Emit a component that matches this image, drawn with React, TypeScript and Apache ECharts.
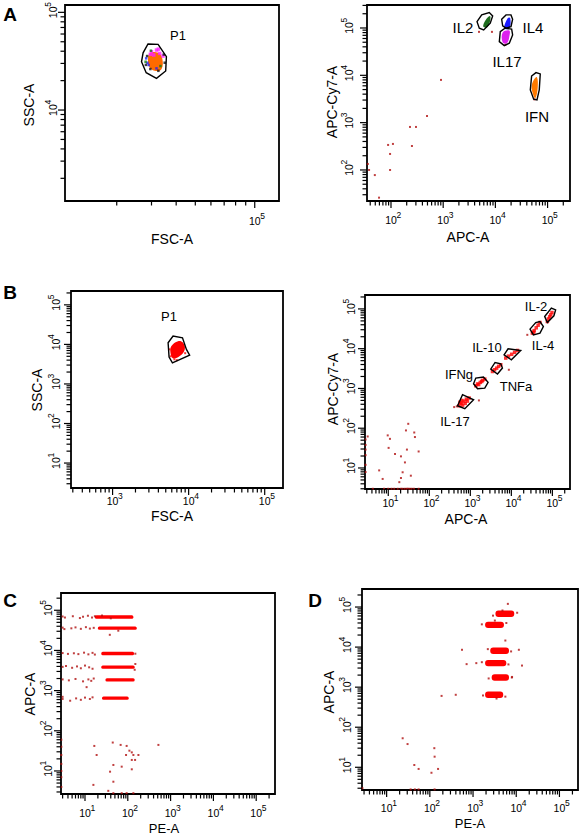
import React, { useEffect, useRef } from 'react';
import * as echarts from 'echarts';

const FONT = "'Liberation Sans', Arial, Helvetica, sans-serif";

// ---------------- Panel A (left): FSC-A vs SSC-A ----------------
const aLeftGate = [[28800, 47400], [32400, 47000], [35700, 35200], [35400, 25100], [31800, 21100], [28200, 24100], [26700, 31200], [27200, 38500]];
const aLeftCore = [[29400, 38000], [32400, 38500], [34000, 33800], [33700, 26100], [31100, 25200], [29200, 27700], [28800, 32500]];
const aLeftMagenta = [[30000, 39500], [31800, 41100], [33000, 38000], [34300, 35700], [30800, 36600], [32500, 42000], [29600, 37200]];
const aLeftBlue = [[28200, 33800], [29000, 28900], [31800, 26700], [28600, 30500]];
const aLeftGreen = [[28000, 31200], [33300, 28200], [29800, 40500]];
const aLeftBlack = [[28500, 35700], [29600, 26300], [35000, 30500], [32500, 25200], [28100, 29000], [34600, 37000]];

// ---------------- Panel A (right): APC-A vs APC-Cy7-A ----------------
const aRightIL2Gate = [[4450, 136000], [5470, 189000], [7640, 212000], [8870, 180000], [7980, 126000], [5970, 91200], [4920, 99100]];
const aRightIL2Core = [[5860, 107000], [6520, 148000], [7890, 180000], [7980, 148000], [7000, 104000]];
const aRightIL4Gate = [[13200, 153000], [16000, 189000], [19900, 189000], [21400, 153000], [19900, 107000], [16000, 99100], [13800, 111000]];
const aRightIL4Core = [[14800, 99100], [17200, 161000], [19300, 161000], [18500, 99100]];
const aRightIL17Gate = [[12400, 83900], [15300, 99100], [20500, 94400], [21400, 71400], [18500, 47800], [14800, 42500], [11900, 51500]];
const aRightIL17Core = [[13800, 80000], [18500, 88100], [18500, 65800], [16700, 47800], [13800, 49100]];
const aRightIFNGate = [[49500, 9700], [60000, 11400], [72400, 10700], [69300, 4910], [62700, 3020], [54200, 3130], [46700, 4910]];
const aRightIFNCore = [[54200, 8000], [62700, 9120], [64600, 5330], [58100, 3280], [51900, 4190], [49500, 5770]];
const aRightDots = [[908, 8000], [490, 1380], [231, 811], [301, 811], [88, 338], [109, 355], [96, 218], [252, 321], [36, 134], [38, 100], [49, 78], [96, 100], [59, 26], [4850, 82800], [8600, 82800], [15500, 44000], [56000, 3100]];

// ---------------- Panel B (left): FSC-A vs SSC-A ----------------
const bLeftGate = [[5370, 11000], [6240, 16200], [8300, 14700], [9350, 7480], [10300, 5370], [6120, 3430], [5530, 4780]];
const bLeftCore = [[5940, 9060], [7260, 12100], [8450, 11000], [8890, 7480], [7640, 5070], [6240, 4430], [5770, 6140]];
const bLeftDots = [[5800, 5000], [6500, 4200], [9000, 6000], [5600, 7500], [7000, 4000]];

// ---------------- Panel B (right): APC-A vs APC-Cy7-A ----------------
const bRightIL2Gate = [[65000, 64400], [94600, 104700], [120000, 94800], [109000, 67100], [75500, 45500]];
const bRightIL4Gate = [[28500, 31000], [39300, 45500], [49900, 48200], [60400, 36100], [49900, 24700], [34500, 22300]];
const bRightIL10Gate = [[6640, 7030], [8320, 9930], [16900, 9020], [10000, 5260]];
const bRightTNFaGate = [[3150, 3070], [4010, 4500], [5520, 4180], [6070, 3260], [4590, 2300]];
const bRightIFNgGate = [[1200, 1310], [1360, 1820], [2090, 1930], [2710, 1420], [2250, 1020], [1500, 980]];
const bRightIL17Gate = [[489, 367], [646, 695], [1200, 520], [735, 309]];
const bRightIL2Pts = [[75500, 48200], [80000, 56000], [85900, 63400], [91000, 71000], [97700, 81100]];
const bRightIL4Pts = [[32600, 24700], [35000, 26000], [36000, 28500], [40400, 33500], [45000, 39000], [49900, 45500]];
const bRightIL10Pts = [[7310, 5810], [8500, 6500], [10200, 7230], [12000, 8100], [14100, 9020]];
const bRightTNFaPts = [[3470, 2670], [3900, 2950], [4380, 3240], [4900, 3600], [5520, 3940]];
const bRightIFNgPts = [[1360, 1170], [1500, 1300], [1600, 1250], [1750, 1420], [1900, 1500], [2000, 1600], [2250, 1720]];
const bRightIL17Pts = [[533, 367], [560, 450], [600, 420], [650, 380], [700, 480], [750, 420], [800, 540], [850, 480], [935, 574], [620, 500]];
const bRightDots = [
  [24500, 22300], [8700, 2950], [1620, 500], [404, 340], [468, 355],
  [3.15, 62], [9.7, 66], [11, 54], [10.2, 32], [6.0, 8.7], [7.3, 5.3], [14.6, 22.5], [20.4, 19.6], [30.7, 129], [27, 88], [43, 78], [44.7, 60], [55, 26], [28.5, 29], [25.5, 13.8], [22.4, 7.8], [35.5, 6.4], [18.6, 4.4], [20.4, 5.6],
  [2.8, 52], [2.8, 38], [2.8, 29], [2.8, 21], [2.8, 12], [2.8, 7.9],
  [4.2, 3], [7.9, 3], [10, 3], [12, 3], [14, 3], [17, 3], [20, 3], [22, 3], [25, 3], [28, 3], [30, 3], [33, 3], [37, 3], [42, 3], [55, 3],
];

// ---------------- Panel C: PE-A vs APC-A ----------------
const cBandY = [68000, 36000, 8400, 3830, 1850, 650];
const cBandXStart = [17, 20, 24, 24, 30, 25];
const cBandXEnd = [135, 162, 140, 145, 145, 105];
const cDots = [
  [3.0, 70000], [3.4, 66000], [5.2, 71000], [7.6, 64000], [9, 69000], [11.7, 73000], [14.6, 66000], [17, 71000], [25, 74000], [40, 63000],
  [3.0, 37000], [3.3, 34000], [4.8, 35500], [6, 37500], [8, 34500], [10.5, 38000], [13, 35000], [16, 36500], [38, 24500], [60, 31000],
  [3.0, 8600], [4, 8200], [5.5, 8500], [7, 8100], [9.5, 8800], [12, 8000], [15, 8700], [17, 7900], [150, 8300],
  [3.0, 3900], [3.6, 4100], [5, 3700], [6.5, 4000], [8, 3600], [10, 4200], [12.5, 3800], [15, 3500], [150, 4600], [145, 3300],
  [3.0, 1900], [4.2, 1800], [6, 1950], [9, 1700], [10.9, 1220], [12, 1900], [14, 1750], [16, 2000],
  [3.0, 620], [3.0, 700], [4.5, 560], [6.2, 640], [8, 590], [10, 670], [13, 620], [15, 680],
  [16.5, 42], [18.7, 25], [44.5, 51], [68, 44.5], [94, 42], [109, 32], [124, 29], [91, 25], [135, 25], [177, 25], [519, 44.5], [124, 18.8], [148, 18.8], [72, 12.8], [46, 14.1], [38.5, 9.6], [124, 11], [46, 5.4], [15.7, 4.5], [35, 3.2],
  [46, 2.8], [72, 2.8], [94, 2.8], [135, 2.8],
  [2.8, 60], [2.8, 40], [2.8, 25], [2.8, 15], [2.8, 10], [2.8, 7], [2.8, 4],
];

// ---------------- Panel D: PE-A vs APC-A ----------------
const dBandY = [68000, 36000, 8100, 3980, 1740, 645];
const dBandXStart = [3300, 1900, 2500, 1900, 2700, 1900];
const dBandXEnd = [9000, 5200, 6800, 5900, 6800, 5000];
const dDots = [
  [6400, 120000], [556, 8570], [11500, 8570], [710, 3760], [1190, 3980], [13600, 3460], [187, 605], [398, 645], [5600, 14600], [7900, 1740],
  [2900, 61000], [10500, 72000], [1600, 37000], [5900, 40000], [2200, 8900], [7600, 7800], [1600, 4200], [6600, 3700], [2300, 1650], [8000, 1800],
  [1700, 620], [5600, 580], [3500, 520], [4800, 82000], [3200, 46000],
  [23.5, 53], [30.5, 38], [43.7, 11.4], [55, 9.1], [109, 7.3], [127, 30], [129, 18.4], [155, 9.1],
  [36, 2.8], [45, 2.8], [55, 2.8], [129, 2.8], [2.75, 3],
];

// ---------------- Layout of the six plots ----------------
const panels = [
  { left: 65, top: 5, width: 214, height: 196, xMin: 10940, xMax: 132700, yMin: 1172, yMax: 118900, xDec: [5], yDec: [4, 5], xGap: 20, yGap: 12 },
  { left: 367, top: 5, width: 203, height: 196, xMin: 34.7, xMax: 269000, yMin: 22.1, yMax: 306000, xDec: [2, 3, 4, 5], yDec: [2, 3, 4, 5], xGap: 19, yGap: 18 },
  { left: 71, top: 291, width: 212, height: 197, xMin: 284, xMax: 174000, yMin: 2.34, yMax: 224000, xDec: [3, 4, 5], yDec: [1, 2, 3, 4, 5], xGap: 13, yGap: 15 },
  { left: 365, top: 295, width: 205, height: 194, xMin: 2.71, xMax: 269000, yMin: 2.96, yMax: 224000, xDec: [1, 2, 3, 4, 5], yDec: [1, 2, 3, 4, 5], xGap: 14, yGap: 14 },
  { left: 61, top: 593, width: 214, height: 201, xMin: 2.75, xMax: 275000, yMin: 2.67, yMax: 269000, xDec: [1, 2, 3, 4, 5], yDec: [1, 2, 3, 4, 5], xGap: 19, yGap: 13 },
  { left: 362, top: 589, width: 216, height: 201, xMin: 2.69, xMax: 269000, yMin: 2.71, yMax: 282000, xDec: [1, 2, 3, 4, 5], yDec: [1, 2, 3, 4, 5], xGap: 18, yGap: 15 },
];

const texts = [
  { t: 'A', x: 10, y: 14, s: 19, b: true, r: false },
  { t: 'B', x: 10, y: 292, s: 19, b: true, r: false },
  { t: 'C', x: 10, y: 600, s: 19, b: true, r: false },
  { t: 'D', x: 315, y: 600, s: 19, b: true, r: false },
  { t: 'FSC-A', x: 172, y: 239, s: 14, b: false, r: false },
  { t: 'SSC-A', x: 29, y: 105, s: 14, b: false, r: true },
  { t: 'APC-A', x: 468, y: 237, s: 14, b: false, r: false },
  { t: 'APC-Cy7-A', x: 332, y: 102, s: 14, b: false, r: true },
  { t: 'FSC-A', x: 172, y: 516, s: 14, b: false, r: false },
  { t: 'SSC-A', x: 37, y: 390, s: 14, b: false, r: true },
  { t: 'APC-A', x: 466, y: 519, s: 14, b: false, r: false },
  { t: 'APC-Cy7-A', x: 333, y: 389, s: 14, b: false, r: true },
  { t: 'PE-A', x: 164, y: 828, s: 13, b: false, r: false },
  { t: 'APC-A', x: 30, y: 694, s: 14, b: false, r: true },
  { t: 'PE-A', x: 470, y: 823, s: 13, b: false, r: false },
  { t: 'APC-A', x: 329, y: 692, s: 14, b: false, r: true },
  { t: 'P1', x: 178, y: 35, s: 13, b: false, r: false },
  { t: 'P1', x: 169, y: 316, s: 13, b: false, r: false },
  { t: 'IL2', x: 463, y: 27, s: 15, b: false, r: false },
  { t: 'IL4', x: 533, y: 27, s: 15, b: false, r: false },
  { t: 'IL17', x: 507, y: 61, s: 15, b: false, r: false },
  { t: 'IFN', x: 537, y: 116, s: 15, b: false, r: false },
  { t: 'IL-2', x: 536, y: 306, s: 13, b: false, r: false },
  { t: 'IL-4', x: 543, y: 345, s: 13, b: false, r: false },
  { t: 'IL-10', x: 487, y: 347, s: 13, b: false, r: false },
  { t: 'TNFa', x: 516, y: 386, s: 13, b: false, r: false },
  { t: 'IFNg', x: 459, y: 374, s: 13, b: false, r: false },
  { t: 'IL-17', x: 455, y: 421, s: 13, b: false, r: false },
];

function tickLabel(x: number, y: number, n: number, rotated: boolean) {
  return {
    type: 'group', x, y, rotation: rotated ? Math.PI / 2 : 0,
    children: [
      { type: 'text', x: 0, y: 0, style: { text: '10', fontSize: 10.5, fontFamily: FONT, fill: '#000', align: 'center', verticalAlign: 'middle' } },
      { type: 'text', x: 5.5, y: -5, style: { text: String(n), fontSize: 8.5, fontFamily: FONT, fill: '#000', align: 'left', verticalAlign: 'middle' } },
    ],
  };
}

function tickSeries(i: number, p: any) {
  const data: number[][] = [];
  for (let n = -1; n <= 6; n++) {
    for (let k = 1; k <= 9; k++) {
      const v = k * Math.pow(10, n);
      if (v >= p.xMin && v <= p.xMax) data.push([v, p.yMin, k === 1 ? 0 : 1, n]);
      if (v >= p.yMin && v <= p.yMax) data.push([p.xMin, v, k === 1 ? 2 : 3, n]);
    }
  }
  return {
    type: 'custom', xAxisIndex: i, yAxisIndex: i, data, silent: true, clip: false, z: 6,
    encode: { x: 0, y: 1 },
    renderItem: (params: any, api: any) => {
      const kind = api.value(2);
      const n = api.value(3);
      const pt = api.coord([api.value(0), api.value(1)]);
      const major = kind === 0 || kind === 2;
      const len = major ? 7 : 4.5;
      const ls = { stroke: '#000', lineWidth: 1.2 };
      const children: any[] = [];
      if (kind < 2) {
        children.push({ type: 'line', shape: { x1: pt[0], y1: pt[1], x2: pt[0], y2: pt[1] + len }, style: ls });
        if (major && p.xDec.indexOf(n) >= 0) children.push(tickLabel(pt[0], pt[1] + p.xGap, n, false));
      } else {
        children.push({ type: 'line', shape: { x1: pt[0], y1: pt[1], x2: pt[0] - len, y2: pt[1] }, style: ls });
        if (major && p.yDec.indexOf(n) >= 0) children.push(tickLabel(pt[0] - p.yGap, pt[1], n, true));
      }
      return { type: 'group', children };
    },
  };
}

function polySeries(i: number, pts: number[][], style: any, z: number, smooth = 0) {
  return {
    type: 'custom', xAxisIndex: i, yAxisIndex: i, data: pts, silent: true, z,
    encode: { x: 0, y: 1 },
    renderItem: (params: any, api: any) => {
      if (params.dataIndex !== 0) return null;
      return { type: 'polygon', shape: { points: pts.map((q) => api.coord(q)), smooth }, style };
    },
  };
}

function gateSeries(i: number, pts: number[][]) {
  return polySeries(i, pts, { fill: null, stroke: '#000', lineWidth: 1.4 }, 5, 0);
}

function bandSeries(i: number, ys: number[], x0: number[], x1: number[], f: number, color: string, r: number) {
  const data = ys.map((y, j) => [x0[j], y, x1[j]]);
  return {
    type: 'custom', xAxisIndex: i, yAxisIndex: i, data, silent: true, z: 3,
    encode: { x: [0, 2], y: 1 },
    renderItem: (params: any, api: any) => {
      const y = api.value(1);
      const a = api.coord([api.value(0), y * f]);
      const b = api.coord([api.value(2), y / f]);
      return { type: 'rect', shape: { x: a[0], y: a[1], width: b[0] - a[0], height: b[1] - a[1], r }, style: { fill: color } };
    },
  };
}

function dots(i: number, data: number[][], color: string, size: number, z = 4) {
  return { type: 'scatter', xAxisIndex: i, yAxisIndex: i, data, symbol: 'rect', symbolSize: size, itemStyle: { color }, silent: true, z };
}

const DOT = '#b01010';
const RED = '#ff0000';

export default function App() {
  const ref = useRef<HTMLDivElement>(null);
  useEffect(() => {
    if (!ref.current) return;
    const chart = echarts.init(ref.current, undefined, { renderer: 'svg' });
    const grid: any[] = [];
    const xAxis: any[] = [];
    const yAxis: any[] = [];
    const series: any[] = [];
    const hidden = { axisLine: { show: false }, axisTick: { show: false }, axisLabel: { show: false }, splitLine: { show: false } };
    panels.forEach((p, i) => {
      grid.push({ left: p.left, top: p.top, width: p.width, height: p.height, show: true, borderColor: '#000', borderWidth: 1.8, backgroundColor: '#fff', containLabel: false, outerBoundsMode: 'none' });
      xAxis.push({ type: 'log', logBase: 10, gridIndex: i, min: p.xMin, max: p.xMax, ...hidden });
      yAxis.push({ type: 'log', logBase: 10, gridIndex: i, min: p.yMin, max: p.yMax, ...hidden });
      series.push(tickSeries(i, p));
    });

    // A left
    series.push(gateSeries(0, aLeftGate));
    series.push(polySeries(0, aLeftCore, { fill: '#ff6a00' }, 3, 0.4));
    series.push(dots(0, aLeftMagenta, '#ff22ff', 3.5));
    series.push(dots(0, aLeftBlue, '#2020ff', 2.5));
    series.push(dots(0, aLeftGreen, '#108010', 2.5));
    series.push(dots(0, aLeftBlack, '#111', 2.5));

    // A right
    [aRightIL2Gate, aRightIL4Gate, aRightIL17Gate, aRightIFNGate].forEach((g) => series.push(gateSeries(1, g)));
    series.push(polySeries(1, aRightIL2Core, { fill: '#1d6b1d' }, 3, 0.4));
    series.push(polySeries(1, aRightIL4Core, { fill: '#1a1aff' }, 3, 0.4));
    series.push(polySeries(1, aRightIL17Core, { fill: '#dd22ee' }, 3, 0.4));
    series.push(polySeries(1, aRightIFNCore, { fill: '#ff7a00' }, 3, 0.4));
    series.push(dots(1, aRightDots, DOT, 2));

    // B left
    series.push(gateSeries(2, bLeftGate));
    series.push(polySeries(2, bLeftCore, { fill: RED }, 3, 0.4));
    series.push(dots(2, bLeftDots, RED, 2));

    // B right
    [bRightIL2Gate, bRightIL4Gate, bRightIL10Gate, bRightTNFaGate, bRightIFNgGate, bRightIL17Gate].forEach((g) => series.push(gateSeries(3, g)));
    [bRightIL2Pts, bRightIL4Pts, bRightIL10Pts, bRightTNFaPts, bRightIFNgPts, bRightIL17Pts].forEach((d) => series.push(dots(3, d, RED, 3.5)));
    series.push(dots(3, bRightDots, DOT, 2));

    // C
    series.push(bandSeries(4, cBandY, cBandXStart, cBandXEnd, 1.1, RED, 1.5));
    series.push(dots(4, cDots, DOT, 2));

    // D
    series.push(bandSeries(5, dBandY, dBandXStart, dBandXEnd, 1.2, RED, 3));
    series.push(dots(5, dDots, DOT, 2));

    const graphic = texts.map((t) => ({
      type: 'text', x: t.x, y: t.y, rotation: t.r ? Math.PI / 2 : 0, z: 10,
      style: { text: t.t, fontSize: t.s, fontWeight: t.b ? 'bold' : 'normal', fontFamily: FONT, fill: '#000', align: 'center', verticalAlign: 'middle' },
    }));

    chart.setOption({ animation: false, backgroundColor: '#fff', grid, xAxis, yAxis, series, graphic });
    return () => chart.dispose();
  }, []);
  return <div ref={ref} style={{ position: 'fixed', left: 0, top: 0, width: 582, height: 836, background: '#fff' }} />;
}
